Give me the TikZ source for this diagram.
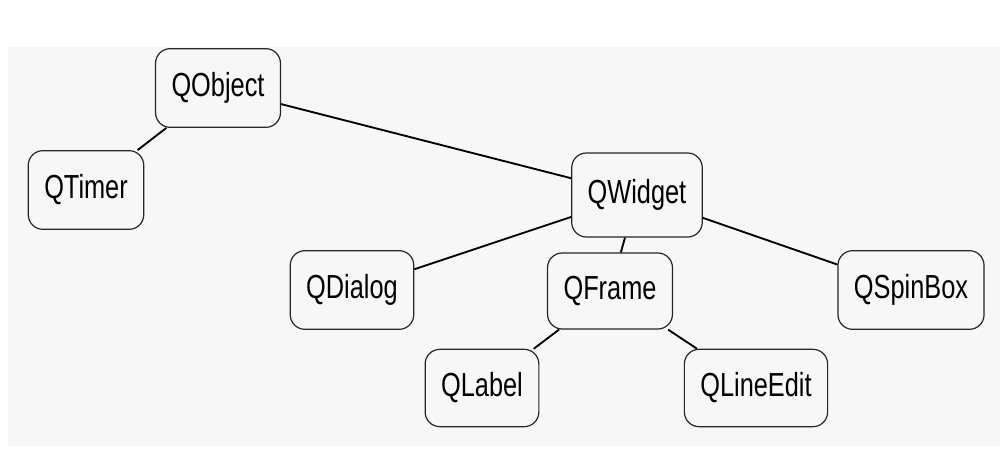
\documentclass[tikz,border=0pt]{standalone}
\usepackage{fontspec}
\setmainfont{Liberation Sans}[FakeStretch=0.76]
\usetikzlibrary{positioning,shapes}

\begin{document}
\begin{tikzpicture}[x=0.75pt,y=-0.75pt]
\tikzstyle{cls}=[draw=black!85,line width=0.9pt,rounded corners=11pt,font=\fontsize{25}{30}\selectfont,minimum width=84pt,minimum height=59pt,inner xsep=12pt]
\tikzstyle{link}=[line width=1.4pt]

\useasboundingbox (0,0) rectangle (1000,449);
% light dotted backdrop
\fill[black!3] (8,47) rectangle (1000,446);

% class boxes
\node[cls] (qobject)   at (218,88)  {QObject};
\node[cls] (qtimer)    at (86,190)  {QTimer};
\node[cls,minimum height=63pt] (qwidget) at (637,195) {QWidget};
\node[cls] (qdialog)   at (352,290) {QDialog};
\node[cls,minimum height=57pt] (qframe) at (610,291) {QFrame};
\node[cls] (qspinbox)  at (911,290) {QSpinBox};
\node[cls,minimum height=58pt] (qlabel) at (482,388) {QLabel};
\node[cls,minimum height=58pt] (qlineedit) at (756,388) {QLineEdit};

% inheritance links
\draw[link] (qobject) -- (qtimer)
            (qobject) -- (qwidget)
            (qwidget) -- (qdialog)
            (qwidget) -- (qframe)
            (qwidget) -- (qspinbox)
            (qframe) -- (qlabel)
            (qframe) -- (qlineedit);
\end{tikzpicture}
\end{document}
